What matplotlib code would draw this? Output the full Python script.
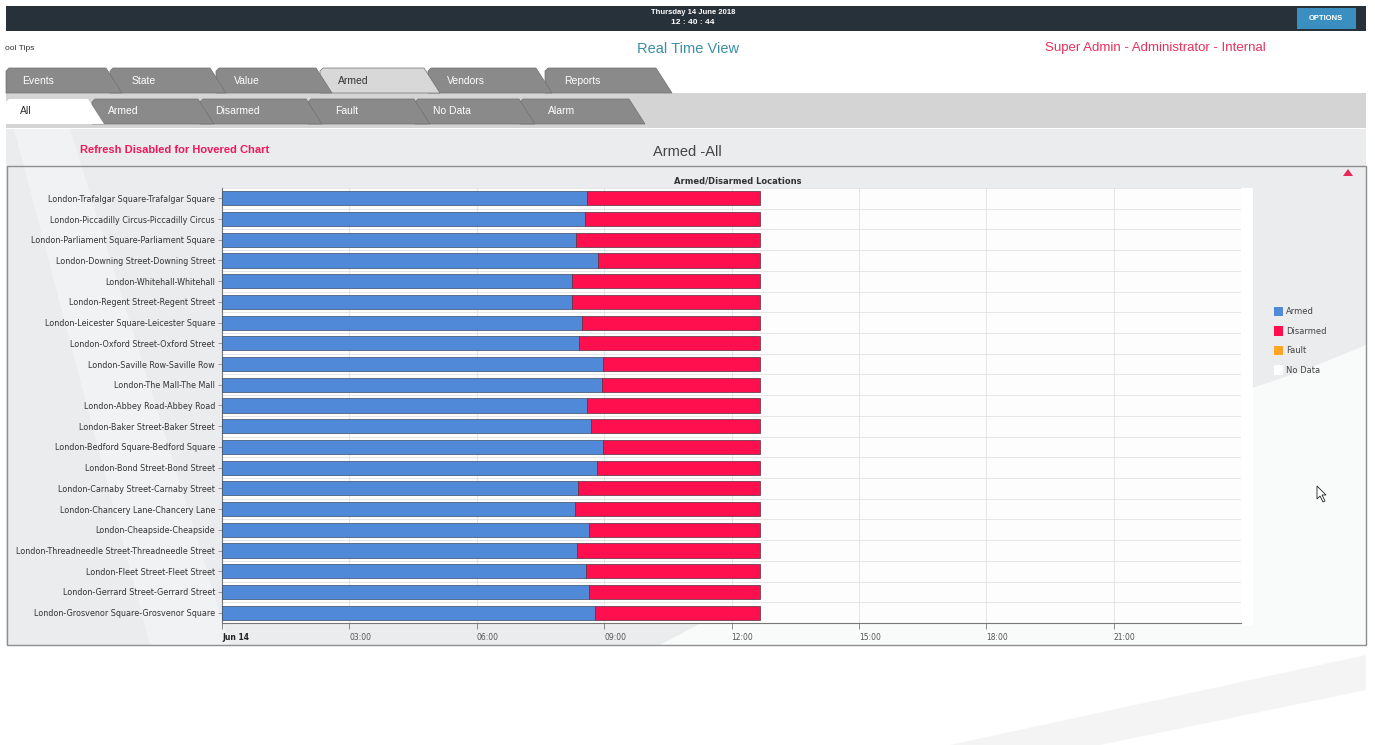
import numpy as np
import matplotlib
matplotlib.use('Agg')
import matplotlib.pyplot as plt
from matplotlib.patches import Rectangle, Polygon, Patch

# data (hours since midnight, Jun 14)
locations = ['London-Trafalgar Square-Trafalgar Square',
             'London-Piccadilly Circus-Piccadilly Circus',
             'London-Parliament Square-Parliament Square',
             'London-Downing Street-Downing Street',
             'London-Whitehall-Whitehall',
             'London-Regent Street-Regent Street',
             'London-Leicester Square-Leicester Square',
             'London-Oxford Street-Oxford Street',
             'London-Saville Row-Saville Row',
             'London-The Mall-The Mall',
             'London-Abbey Road-Abbey Road',
             'London-Baker Street-Baker Street',
             'London-Bedford Square-Bedford Square',
             'London-Bond Street-Bond Street',
             'London-Carnaby Street-Carnaby Street',
             'London-Chancery Lane-Chancery Lane',
             'London-Cheapside-Cheapside',
             'London-Threadneedle Street-Threadneedle Street',
             'London-Fleet Street-Fleet Street',
             'London-Gerrard Street-Gerrard Street',
             'London-Grosvenor Square-Grosvenor Square']
armed_until = [8.59, 8.54, 8.33, 8.85, 8.24, 8.24, 8.47, 8.40, 8.97, 8.94, 8.59,
               8.68, 8.97, 8.83, 8.38, 8.31, 8.64, 8.36, 8.57, 8.64, 8.78]
now_h = 12.66
hour_ticks = [0, 3, 6, 9, 12, 15, 18, 21]
hour_labels = ['Jun 14', '03:00', '06:00', '09:00', '12:00', '15:00', '18:00', '21:00']
legend_names = ['Armed', 'Disarmed', 'Fault', 'No Data']
legend_colors = ['#4f89d8', '#ff0f4d', '#ffa424', '#ffffff']

tabs_top = ['Events', 'State', 'Value', 'Armed', 'Vendors', 'Reports']
tabs_sub = ['All', 'Armed', 'Disarmed', 'Fault', 'No Data', 'Alarm']

W, H = 1375, 745
fig = plt.figure(figsize=(W / 100, H / 100), dpi=100)
fig.patch.set_facecolor('white')

# page decoration in pixel coordinates
bg = fig.add_axes([0, 0, 1, 1], zorder=0)
bg.set_xlim(0, W)
bg.set_ylim(H, 0)
bg.axis('off')

# header bar
bg.add_patch(Rectangle((6, 6), 1360, 25, fc='#27313a', ec='none'))
bg.add_patch(Rectangle((1297, 8), 59, 21, fc='#3b8fc0', ec='none'))
bg.text(1326, 18.5, 'OPTIONS', color='white', fontsize=5.5, fontweight='bold',
        ha='center', va='center', family='Liberation Sans')
bg.text(693, 12, 'Thursday 14 June 2018', color='white', fontsize=5.5, fontweight='bold',
        ha='center', va='center', family='Liberation Sans')
bg.text(693, 23, '12 : 40 : 44', color='white', fontsize=6, fontweight='bold',
        ha='center', va='center', family='Liberation Sans')

bg.text(5, 48, 'ool Tips', color='#333333', fontsize=6, va='center', family='Liberation Sans')
bg.text(688, 49, 'Real Time View', color='#3a8fa6', fontsize=10.5, ha='center', va='center',
        family='Liberation Sans')
bg.text(1155, 48, 'Super Admin - Administrator - Internal', color='#e8305c', fontsize=9.5,
        ha='center', va='center', family='Liberation Sans')

# tab rows
bg.add_patch(Rectangle((6, 93), 1360, 35, fc='#d4d4d4', ec='none'))
lefts1 = [6, 110, 216, 320, 428, 545]
rights1 = [122, 226, 332, 440, 552, 672]
textx1 = [22, 132, 234, 338, 447, 564]
for i in range(len(tabs_top) - 1, -1, -1):
    l, r = lefts1[i], rights1[i]
    active = tabs_top[i] == 'Armed'
    bg.add_patch(Polygon([(l, 93), (l, 71), (l + 3, 68), (r - 16, 68), (r, 93)],
                         closed=True, fc='#d8d8d8' if active else '#8a8a8a',
                         ec='#707070', lw=0.5))
    bg.text(textx1[i], 81, tabs_top[i], color='#333333' if active else 'white',
            fontsize=7.5, va='center', family='Liberation Sans')
lefts2 = [6, 92, 200, 308, 415, 520]
rights2 = [104, 214, 322, 430, 535, 645]
textx2 = [20, 108, 215, 335, 433, 548]
for i in range(len(tabs_sub) - 1, -1, -1):
    l, r = lefts2[i], rights2[i]
    active = tabs_sub[i] == 'All'
    bg.add_patch(Polygon([(l, 124), (l, 102), (l + 3, 99), (r - 16, 99), (r, 124)],
                         closed=True, fc='white' if active else '#8a8a8a',
                         ec='#707070' if not active else 'none', lw=0.5))
    bg.text(textx2[i], 111, tabs_sub[i], color='#333333' if active else 'white',
            fontsize=7.5, va='center', family='Liberation Sans')

# chart panel with background swooshes
bg.add_patch(Rectangle((6, 129), 1360, 516, fc='#eaeced', ec='none'))
bg.add_patch(Polygon([(14, 129), (70, 129), (230, 645), (150, 645)], closed=True,
                     fc='white', ec='none', alpha=0.35))
xs = np.array([1366, 1300, 1240, 1100, 950, 800, 660])
ys = np.array([345, 372, 392, 430, 490, 570, 645])
bg.add_patch(Polygon(list(zip(xs, ys)) + [(1366, 645)], closed=True,
                     fc='white', ec='none', alpha=0.75))
bg.add_patch(Polygon([(950, 745), (1366, 655), (1366, 690), (1100, 745)], closed=True,
                     fc='#f4f4f4', ec='none'))
bg.text(175, 150, 'Refresh Disabled for Hovered Chart', color='#f0185a', fontsize=8,
        fontweight='bold', ha='center', va='center', family='Liberation Sans')
bg.text(687, 152, 'Armed -All', color='#444444', fontsize=10.5, ha='center', va='center',
        family='Liberation Sans')
bg.add_patch(Rectangle((7, 166), 1359, 479, fc='none', ec='#8e8e8e', lw=1))
bg.add_patch(Rectangle((1241, 188), 12, 437, fc='white', ec='none'))
bg.add_patch(Polygon([(1343, 176), (1353, 176), (1348, 169)], closed=True, fc='#e8285a', ec='none'))
bg.add_patch(Polygon([(1317, 486), (1317, 499), (1320, 496), (1323, 502), (1325, 501),
                      (1322, 495), (1326, 495)], closed=True, fc='white', ec='#222222', lw=0.6))

# the chart itself
ax = fig.add_axes([222 / W, 1 - 623 / H, (1241 - 222) / W, (623 - 188) / H], zorder=2)
ax.set_facecolor('#fdfdfd')
y = np.arange(len(locations))
armed = np.array(armed_until)
ax.barh(y, armed, left=0, height=0.68, color=legend_colors[0], edgecolor='#3c4d66',
        lw=0.5, zorder=3)
ax.barh(y, now_h - armed, left=armed, height=0.68, color=legend_colors[1],
        edgecolor='#5a3040', lw=0.5, zorder=3)
ax.set_xlim(0, 24)
ax.set_ylim(len(locations) - 0.5, -0.5)

ax.set_yticks(y)
ax.set_yticklabels(locations, fontsize=5.75, color='#333333')
ax.set_yticks(np.arange(len(locations) + 1) - 0.5, minor=True)
ax.tick_params(axis='y', which='major', length=3, width=0.5, color='#777777', pad=2)
ax.tick_params(axis='y', which='minor', length=0)
ax.grid(axis='y', which='minor', color='#e2e2e2', lw=0.6, zorder=0)

ax.set_xticks(hour_ticks)
ax.set_xticklabels(hour_labels, fontsize=5.5, color='#555555')
plt.setp(ax.get_xticklabels(), ha='left')
ax.get_xticklabels()[0].set_fontweight('bold')
ax.get_xticklabels()[0].set_color('#222222')
ax.tick_params(axis='x', length=4, width=0.6, color='#777777', pad=3)
ax.grid(axis='x', which='major', color='#e2e2e2', lw=0.6, zorder=0)

for s in ['top', 'right']:
    ax.spines[s].set_visible(False)
ax.spines['left'].set_color('#777777')
ax.spines['bottom'].set_color('#777777')
ax.spines['left'].set_linewidth(0.8)
ax.spines['bottom'].set_linewidth(0.8)
ax.set_title('Armed/Disarmed Locations', fontsize=6, fontweight='bold', color='#333333',
             pad=3, x=0.506)

handles = [Patch(fc=c, ec='none') for c in legend_colors]
fig.legend(handles, legend_names, loc='upper left',
           bbox_to_anchor=(1266 / W, 1 - 299 / H), frameon=False, fontsize=6,
           handlelength=1.1, handleheight=1.4, labelspacing=1.2, handletextpad=0.4,
           labelcolor='#444444')

fig.savefig('out.png', dpi=100)
